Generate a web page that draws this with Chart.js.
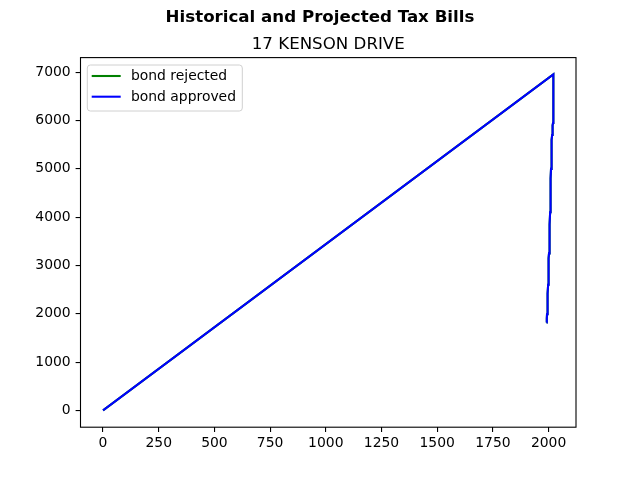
<!DOCTYPE html>
<html>
<head>
<meta charset="utf-8">
<script src="https://cdn.jsdelivr.net/npm/chart.js@4/dist/chart.umd.min.js"></script>
<style>
html,body{margin:0;padding:0;background:#fff;}
canvas{display:block;}
</style>
</head>
<body>
<canvas id="c" width="640" height="480"></canvas>
<script>
// ---- data ----
const years = [1991,1992,1993,1994,1995,1996,1997,1998,1999,2000,2001,2002,2003,2004,2005,2006,2007,2008,2009,2010,2011,2012,2013,2014,2015,2016,2017,2018,2019,2020,2021,2022,0];
const rejectedValues = [1820,1900,1990,2080,2180,2290,2420,2600,2800,3000,3150,3250,3320,3400,3600,3850,4100,4350,4600,4800,5000,5200,5350,5500,5600,5700,5780,5850,5900,5950,5950,6955,0];
const approvedValues = [1820,1900,1990,2080,2180,2290,2420,2600,2800,3000,3150,3250,3320,3400,3600,3850,4100,4350,4600,4800,5000,5200,5350,5500,5600,5700,5780,5850,5900,5950,5950,6955,0];
const seriesNames = ['bond rejected','bond approved'];
const seriesColors = ['#008000','#0000ff'];
const xTicks = [0,250,500,750,1000,1250,1500,1750,2000];
const yTicks = [0,1000,2000,3000,4000,5000,6000,7000];
const mainTitle = 'Historical and Projected Tax Bills';
const subTitle = '17 KENSON DRIVE';

const FONT = '"DejaVu Sans", sans-serif';
const toPoints = vals => years.map((y,i)=>({x:y, y:vals[i]}));

function span(arr){const mn=Math.min(...arr),mx=Math.max(...arr),m=(mx-mn)*0.05;return [mn-m,mx+m];}
const allY = rejectedValues.concat(approvedValues);
const [xMin,xMax] = span(years);
const [yMin,yMax] = span(allY);

const decor = {
  id:'decor',
  afterDatasetsDraw(chart){
    const ctx = chart.ctx, a = chart.chartArea;
    ctx.save();
    ctx.strokeStyle = '#000'; ctx.lineWidth = 1.1;
    ctx.strokeRect(a.left, a.top, a.right-a.left, a.bottom-a.top);
    // legend
    const lx=87.3, ly=65, lw=155, lh=46, r=3;
    ctx.beginPath();
    ctx.moveTo(lx+r,ly); ctx.lineTo(lx+lw-r,ly); ctx.quadraticCurveTo(lx+lw,ly,lx+lw,ly+r);
    ctx.lineTo(lx+lw,ly+lh-r); ctx.quadraticCurveTo(lx+lw,ly+lh,lx+lw-r,ly+lh);
    ctx.lineTo(lx+r,ly+lh); ctx.quadraticCurveTo(lx,ly+lh,lx,ly+lh-r);
    ctx.lineTo(lx,ly+r); ctx.quadraticCurveTo(lx,ly,lx+r,ly); ctx.closePath();
    ctx.fillStyle='rgba(255,255,255,0.8)'; ctx.fill();
    ctx.strokeStyle='#d0d0d0'; ctx.lineWidth=1; ctx.stroke();
    const rows=[76,96.7];
    seriesNames.forEach((n,i)=>{
      ctx.strokeStyle=seriesColors[i]; ctx.lineWidth=2.08;
      ctx.beginPath(); ctx.moveTo(91.7,rows[i]); ctx.lineTo(120.7,rows[i]); ctx.stroke();
      ctx.fillStyle='#000'; ctx.font='13.9px '+FONT; ctx.textBaseline='middle'; ctx.textAlign='left';
      ctx.fillText(n,131,rows[i]+0.5);
    });
    // titles
    ctx.fillStyle='#000'; ctx.textAlign='center'; ctx.textBaseline='alphabetic';
    ctx.font='bold 16.67px '+FONT;
    ctx.fillText(mainTitle,320,21.7);
    ctx.font='16.67px '+FONT;
    ctx.fillText(subTitle,(a.left+a.right)/2,49.3);
    ctx.restore();
  }
};

new Chart(document.getElementById('c'),{
  type:'line',
  data:{
    datasets:[
      {label:seriesNames[0], data:toPoints(rejectedValues), borderColor:seriesColors[0], borderWidth:2.08, pointRadius:0, fill:false, tension:0, order:1},
      {label:seriesNames[1], data:toPoints(approvedValues), borderColor:seriesColors[1], borderWidth:2.08, pointRadius:0, fill:false, tension:0, order:0}
    ]
  },
  options:{
    responsive:false, animation:false, devicePixelRatio:1,
    layout:{padding:{top:57.6,right:64,left:0,bottom:0}},
    plugins:{legend:{display:false},title:{display:false},tooltip:{enabled:false}},
    scales:{
      x:{type:'linear',min:xMin,max:xMax,
        afterBuildTicks:s=>{s.ticks=xTicks.map(v=>({value:v}));},
        afterFit:s=>{s.height=52.8;},
        grid:{drawOnChartArea:false,drawTicks:true,tickLength:4.9,color:'#000',lineWidth:1.1},
        border:{display:false},
        ticks:{color:'#000',font:{family:FONT,size:13.9},padding:3,maxRotation:0,autoSkip:false,callback:v=>String(v)}
      },
      y:{type:'linear',min:yMin,max:yMax,
        afterBuildTicks:s=>{s.ticks=yTicks.map(v=>({value:v}));},
        afterFit:s=>{s.width=80.5;},
        grid:{drawOnChartArea:false,drawTicks:true,tickLength:4.9,color:'#000',lineWidth:1.1},
        border:{display:false},
        ticks:{color:'#000',font:{family:FONT,size:13.9},padding:4.9,autoSkip:false,callback:v=>String(v)}
      }
    }
  },
  plugins:[decor]
});
</script>
</body>
</html>
